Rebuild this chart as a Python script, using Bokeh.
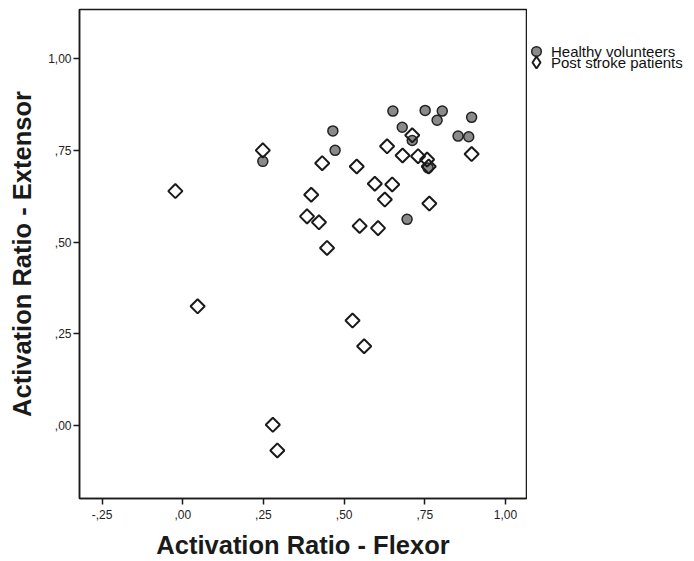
import numpy as np
from bokeh.plotting import figure
from bokeh.layouts import row
from bokeh.models import Range1d, FixedTicker, Legend, LegendItem
from bokeh.embed import file_html
from bokeh.resources import INLINE

# Healthy volunteers (filled grey circles)
healthy_x = [0.248, 0.465, 0.472, 0.651, 0.751, 0.804, 0.788, 0.895, 0.680,
             0.711, 0.853, 0.886, 0.760, 0.695]
healthy_y = [0.720, 0.803, 0.750, 0.857, 0.859, 0.857, 0.832, 0.840, 0.813,
             0.777, 0.789, 0.787, 0.702, 0.562]

# Post stroke patients (open diamonds)
stroke_x = [-0.023, 0.248, 0.046, 0.279, 0.293, 0.526, 0.562, 0.432, 0.539,
            0.398, 0.385, 0.422, 0.447, 0.548, 0.626, 0.764, 0.605, 0.633,
            0.711, 0.681, 0.729, 0.757, 0.762, 0.895, 0.595, 0.649]
stroke_y = [0.639, 0.750, 0.325, 0.002, -0.068, 0.286, 0.216, 0.715, 0.706,
            0.629, 0.570, 0.554, 0.484, 0.544, 0.616, 0.605, 0.538, 0.761,
            0.791, 0.736, 0.734, 0.725, 0.706, 0.740, 0.659, 0.657]

x_ticks = [-0.25, 0.0, 0.25, 0.5, 0.75, 1.0]
x_tick_labels = ["-,25", ",00", ",25", ",50", ",75", "1,00"]
y_ticks = [0.0, 0.25, 0.5, 0.75, 1.0]
y_tick_labels = [",00", ",25", ",50", ",75", "1,00"]

x_title = "Activation Ratio - Flexor"
y_title = "Activation Ratio - Extensor"
series_names = ["Healthy volunteers", "Post stroke patients"]

FONT = "Liberation Sans"
CIRCLE_STYLE = dict(marker="circle", fill_color="#8a8a8a",
                    line_color="#222222", line_width=1.5)
DIAMOND_STYLE = dict(marker="square", angle=np.pi / 4, fill_color="white",
                     fill_alpha=0.0, line_color="#1a1a1a", line_width=2)
LEGEND_DIAMOND_STYLE = dict(marker="diamond", fill_color="white",
                            line_color="#1a1a1a", line_width=2)

# ---- main scatter plot ----
p = figure(width=527, height=561,
           x_range=Range1d(-0.32, 1.065), y_range=Range1d(-0.199, 1.134),
           output_backend="svg", toolbar_location=None,
           min_border_left=79, min_border_right=1,
           min_border_top=9, min_border_bottom=63)

p.grid.visible = False
p.background_fill_color = "white"
p.border_fill_color = "white"
p.outline_line_color = "#1a1a1a"
p.outline_line_width = 1.5

for ax, ticks, labels in ((p.xaxis[0], x_ticks, x_tick_labels),
                          (p.yaxis[0], y_ticks, y_tick_labels)):
    ax.ticker = FixedTicker(ticks=ticks)
    ax.major_label_overrides = {t: l for t, l in zip(ticks, labels)}
    ax.minor_tick_line_color = None
    ax.major_tick_in = 0
    ax.major_tick_out = 6
    ax.major_tick_line_color = "#1a1a1a"
    ax.major_tick_line_width = 1.5
    ax.axis_line_color = "#1a1a1a"
    ax.axis_line_width = 1.5
    ax.major_label_text_font = FONT
    ax.major_label_text_font_size = "12px"
    ax.major_label_text_color = "#222222"
    ax.axis_label_text_font = FONT
    ax.axis_label_text_font_style = "bold"
    ax.axis_label_text_font_size = "25.5px"
    ax.axis_label_text_color = "#1a1a1a"

p.xaxis[0].axis_label = x_title
p.yaxis[0].axis_label = y_title
p.xaxis[0].major_label_standoff = 5
p.xaxis[0].axis_label_standoff = 9
p.yaxis[0].major_label_standoff = 2
p.yaxis[0].axis_label_standoff = 9

p.scatter(healthy_x, healthy_y, size=10, **CIRCLE_STYLE)
p.scatter(stroke_x, stroke_y, size=10, **DIAMOND_STYLE)

# ---- legend panel (outside the plot frame, to the right) ----
# Its ranges lie away from the data, so its renderers only feed the legend.
pl = figure(width=167, height=561, output_backend="svg", toolbar_location=None,
            x_range=Range1d(10, 11), y_range=Range1d(10, 11),
            x_axis_type=None, y_axis_type=None,
            min_border_left=0, min_border_right=0,
            min_border_top=0, min_border_bottom=0,
            outline_line_color=None)
pl.grid.visible = False
lh = pl.scatter(healthy_x, healthy_y, size=10, **CIRCLE_STYLE)
ls = pl.scatter(stroke_x, stroke_y, size=10, **LEGEND_DIAMOND_STYLE)

LEGEND_STYLE = dict(padding=0, margin=0, spacing=0, label_height=12,
                    label_text_font=FONT, label_text_font_size="15px",
                    label_text_color="#111111",
                    border_line_color=None, background_fill_alpha=0.0)

legend_h = Legend(items=[LegendItem(label=series_names[0], renderers=[lh])],
                  location=(-3, 435), glyph_width=24, glyph_height=24,
                  label_standoff=3, **LEGEND_STYLE)
legend_s = Legend(items=[LegendItem(label=series_names[1], renderers=[ls])],
                  location=(-6, 421), glyph_width=30, glyph_height=30,
                  label_standoff=0, **LEGEND_STYLE)
pl.add_layout(legend_h, "center")
pl.add_layout(legend_s, "center")

layout = row(p, pl, spacing=0)
open("out.html", "w").write(file_html(layout, INLINE))
